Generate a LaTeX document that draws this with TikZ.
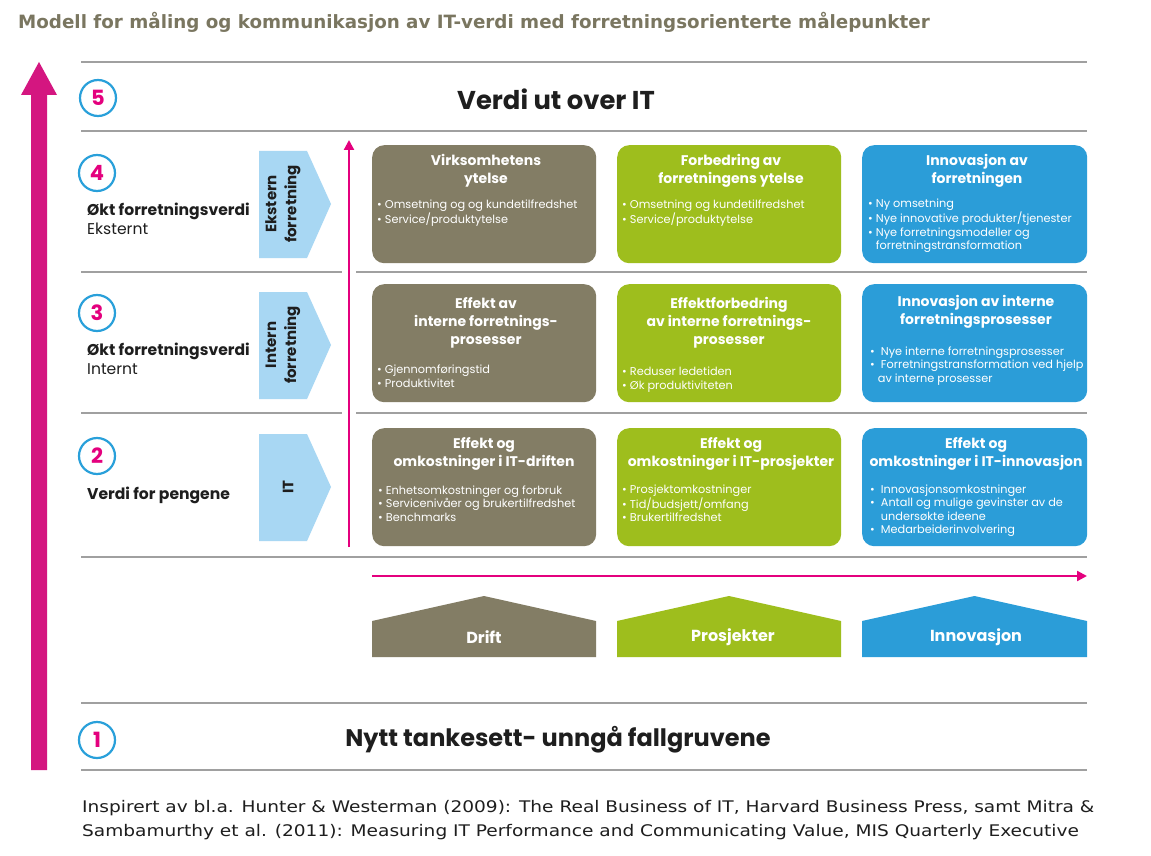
\documentclass[tikz,border=0pt]{standalone}
\usepackage{fontspec}
\usepackage{tikz}
\usepackage{xcolor}
\usetikzlibrary{arrows.meta,positioning}
\setmainfont{Poppins}
\newfontfamily\webfont{DejaVu Sans}

\definecolor{drift}{RGB}{131,125,101}
\definecolor{prosj}{RGB}{158,190,29}
\definecolor{innov}{RGB}{43,157,216}
\definecolor{lightarrow}{RGB}{168,215,243}
\definecolor{bigpink}{RGB}{212,22,128}
\definecolor{pinkline}{RGB}{228,0,126}
\definecolor{ringblue}{RGB}{41,160,218}
\definecolor{sepgray}{RGB}{160,160,160}
\definecolor{headgray}{RGB}{122,118,96}
\definecolor{inkdark}{RGB}{30,30,30}

\tikzset{
  sep/.style={draw=sepgray, line width=1.4},
  lvl/.style={circle, draw=ringblue, line width=2.2, minimum size=36, inner sep=0,
    text=pinkline, font=\fontsize{21}{21}\selectfont\bfseries},
  card/.style={rounded corners=12, minimum width=224, minimum height=118, inner sep=0, anchor=north west},
  cardhead/.style={text=white, align=center, inner sep=0, font=\fontsize{14}{18}\selectfont\bfseries},
  cardlist/.style={text=white, align=left, anchor=west, inner sep=0, font=\fontsize{11.3}{13.5}\selectfont},
  rowlabel/.style={anchor=west, inner sep=0, text=inkdark, font=\fontsize{15.6}{18}\selectfont},
  rowlabelbold/.style={rowlabel, font=\fontsize{15.6}{18}\selectfont\bfseries},
  tabtext/.style={rotate=90, align=center, inner sep=0, text=inkdark, font=\fontsize{15}{20}\selectfont\bfseries},
  house/.style={inner sep=0, text=white, font=\fontsize{16}{16}\selectfont\bfseries},
  banner/.style={inner sep=0, text=inkdark, font=\fontsize{25.8}{26}\selectfont\bfseries},
  thinarrow/.style={draw=pinkline, line width=2.2, -{Triangle[length=10pt,width=10pt]}},
}

\begin{document}
\begin{tikzpicture}[x=1pt,y=-1pt]
\useasboundingbox (0,0) rectangle (1151,856);
\fill[white] (0,0) rectangle (1151,856);

% Heading
\node[anchor=west, inner sep=0, text=headgray, font=\webfont\fontsize{18.3}{18}\selectfont\bfseries] (head) at (18,22)
  {Modell for måling og kommunikasjon av IT-verdi med forretningsorienterte målepunkter};

% Separators
\foreach \y in {62,131,272,413,557,703,770} \draw[sep] (81,\y) -- (1087,\y);

% Big arrow on the left
\fill[bigpink] (31,770) -- (31,95) -- (21,95) -- (39,62) -- (57,95) -- (47,95) -- (47,770) -- cycle;

% Levels
\node[lvl] (n5) at (98,98) {5};
\node[lvl] (n4) at (97,173) {4};
\node[lvl] (n3) at (97,313) {3};
\node[lvl] (n2) at (97,456) {2};
\node[lvl] (n1) at (97,740) {1};

\node[banner] (top) at (556,99) {Verdi ut over IT};
\node[banner, font=\fontsize{24}{24}\selectfont\bfseries] (bottom) at (558,740) {Nytt tankesett- unngå fallgruvene};

\node[rowlabelbold] (l4a) at (87,211) {Økt forretningsverdi};
\node[rowlabel] (l4b) at (87,229) {Eksternt};
\node[rowlabelbold] (l3a) at (87,351) {Økt forretningsverdi};
\node[rowlabel] (l3b) at (87,369) {Internt};
\node[rowlabelbold] (l2a) at (87,495) {Verdi for pengene};

% Tabs
\fill[lightarrow] (259,151) -- (307,151) -- (331,204) -- (307,258) -- (259,258) -- cycle;
\fill[lightarrow] (259,292) -- (307,292) -- (331,345) -- (307,399) -- (259,399) -- cycle;
\fill[lightarrow] (259,434) -- (307,434) -- (331,487) -- (307,541) -- (259,541) -- cycle;
\node[tabtext] (tab4) at (283,204) {Ekstern\\forretning};
\node[tabtext] (tab3) at (283,345) {Intern\\forretning};
\node[tabtext] (tab2) at (288,487) {IT};

% Axes
\coordinate (vbot) at (349,547);
\coordinate (vtop) at (349,140);
\coordinate (hleft) at (372,576);
\coordinate (hright) at (1087,576);
\draw[white, line width=14] (vbot) -- (vtop);
\draw[thinarrow] (vbot) -- (vtop);
\draw[thinarrow] (hleft) -- (hright);

% Row 4
\node[card, fill=drift] (c41) at (372,145) {};
\node[card, fill=prosj] (c42) at (617,145) {};
\node[card, fill=innov, minimum width=225] (c43) at (862,145) {};
\node[cardhead] (t41) at (486,170.5) {Virksomhetens\\ytelse};
\node[cardhead] (t42) at (731,170.5) {Forbedring av\\forretningens ytelse};
\node[cardhead] (t43) at (977,170.5) {Innovasjon av\\forretningen};
\node[cardlist] (b41) at (377,213) {\textbullet\ Omsetning og og kundetilfredshet\\\textbullet\ Service/produktytelse};
\node[cardlist] (b42) at (622,213) {\textbullet\ Omsetning og kundetilfredshet\\\textbullet\ Service/produktytelse};
\node[cardlist] (b43) at (868,226) {\textbullet\ Ny omsetning\\\textbullet\ Nye innovative produkter/tjenester\\
  \textbullet\ Nye forretningsmodeller og\\\hphantom{\textbullet\ }forretningstransformation};

% Row 3
\node[card, fill=drift] (c31) at (372,284) {};
\node[card, fill=prosj] (c32) at (617,284) {};
\node[card, fill=innov, minimum width=225] (c33) at (862,284) {};
\node[cardhead] (t31) at (486,323) {Effekt av\\interne forretnings-\\prosesser};
\node[cardhead] (t32) at (729,323) {Effektforbedring\\av interne forretnings-\\prosesser};
\node[cardhead] (t33) at (976,312) {Innovasjon av interne\\forretningsprosesser};
\node[cardlist] (b31) at (377,376) {\textbullet\ Gjennomføringstid\\\textbullet\ Produktivitet};
\node[cardlist] (b32) at (622,379.5) {\textbullet\ Reduser ledetiden\\\textbullet\ Øk produktiviteten};
\node[cardlist] (b33) at (870,366) {\textbullet\ \ Nye interne forretningsprosesser\\\textbullet\ \ Forretningstransformation ved hjelp\\
  \hphantom{\textbullet\ }av interne prosesser};

% Row 2
\node[card, fill=drift] (c21) at (372,428) {};
\node[card, fill=prosj] (c22) at (617,428) {};
\node[card, fill=innov, minimum width=225] (c23) at (862,428) {};
\node[cardhead] (t21) at (484,454) {Effekt og\\omkostninger i IT-driften};
\node[cardhead] (t22) at (731,454) {Effekt og\\omkostninger i IT-prosjekter};
\node[cardhead] (t23) at (976,454) {Effekt og\\omkostninger i IT-innovasjon};
\node[cardlist] (b21) at (378,503.5) {\textbullet\ Enhetsomkostninger og forbruk\\\textbullet\ Servicenivåer og brukertilfredshet\\\textbullet\ Benchmarks};
\node[cardlist] (b22) at (622,503.5) {\textbullet\ Prosjektomkostninger\\\textbullet\ Tid/budsjett/omfang\\\textbullet\ Brukertilfredshet};
\node[cardlist] (b23) at (870,510.5) {\textbullet\ \ Innovasjonsomkostninger\\\textbullet\ \ Antall og mulige gevinster av de\\
  \hphantom{\textbullet\ \ }undersøkte ideene\\\textbullet\ \ Medarbeiderinvolvering};

% Houses
\fill[drift] (372,657) -- (372,621) -- (484,596) -- (596,621) -- (596,657) -- cycle;
\fill[prosj] (617,657) -- (617,621) -- (729,596) -- (841,621) -- (841,657) -- cycle;
\fill[innov] (862,657) -- (862,621) -- (974.5,596) -- (1087,621) -- (1087,657) -- cycle;
\node[house] (h1) at (484,637) {Drift};
\node[house] (h2) at (733,637) {Prosjekter};
\node[house] (h3) at (976,637) {Innovasjon};

% Source
\node[anchor=west, align=left, inner sep=0, text=inkdark, font=\webfont\fontsize{16}{24}\selectfont] (src) at (82,820)
  {\scalebox{1.16}[1]{Inspirert av bl.a. Hunter \& Westerman (2009): The Real Business of IT, Harvard Business Press, samt Mitra \&}\\
   \scalebox{1.16}[1]{Sambamurthy et al. (2011): Measuring IT Performance and Communicating Value, MIS Quarterly Executive}};
\end{tikzpicture}
\end{document}
